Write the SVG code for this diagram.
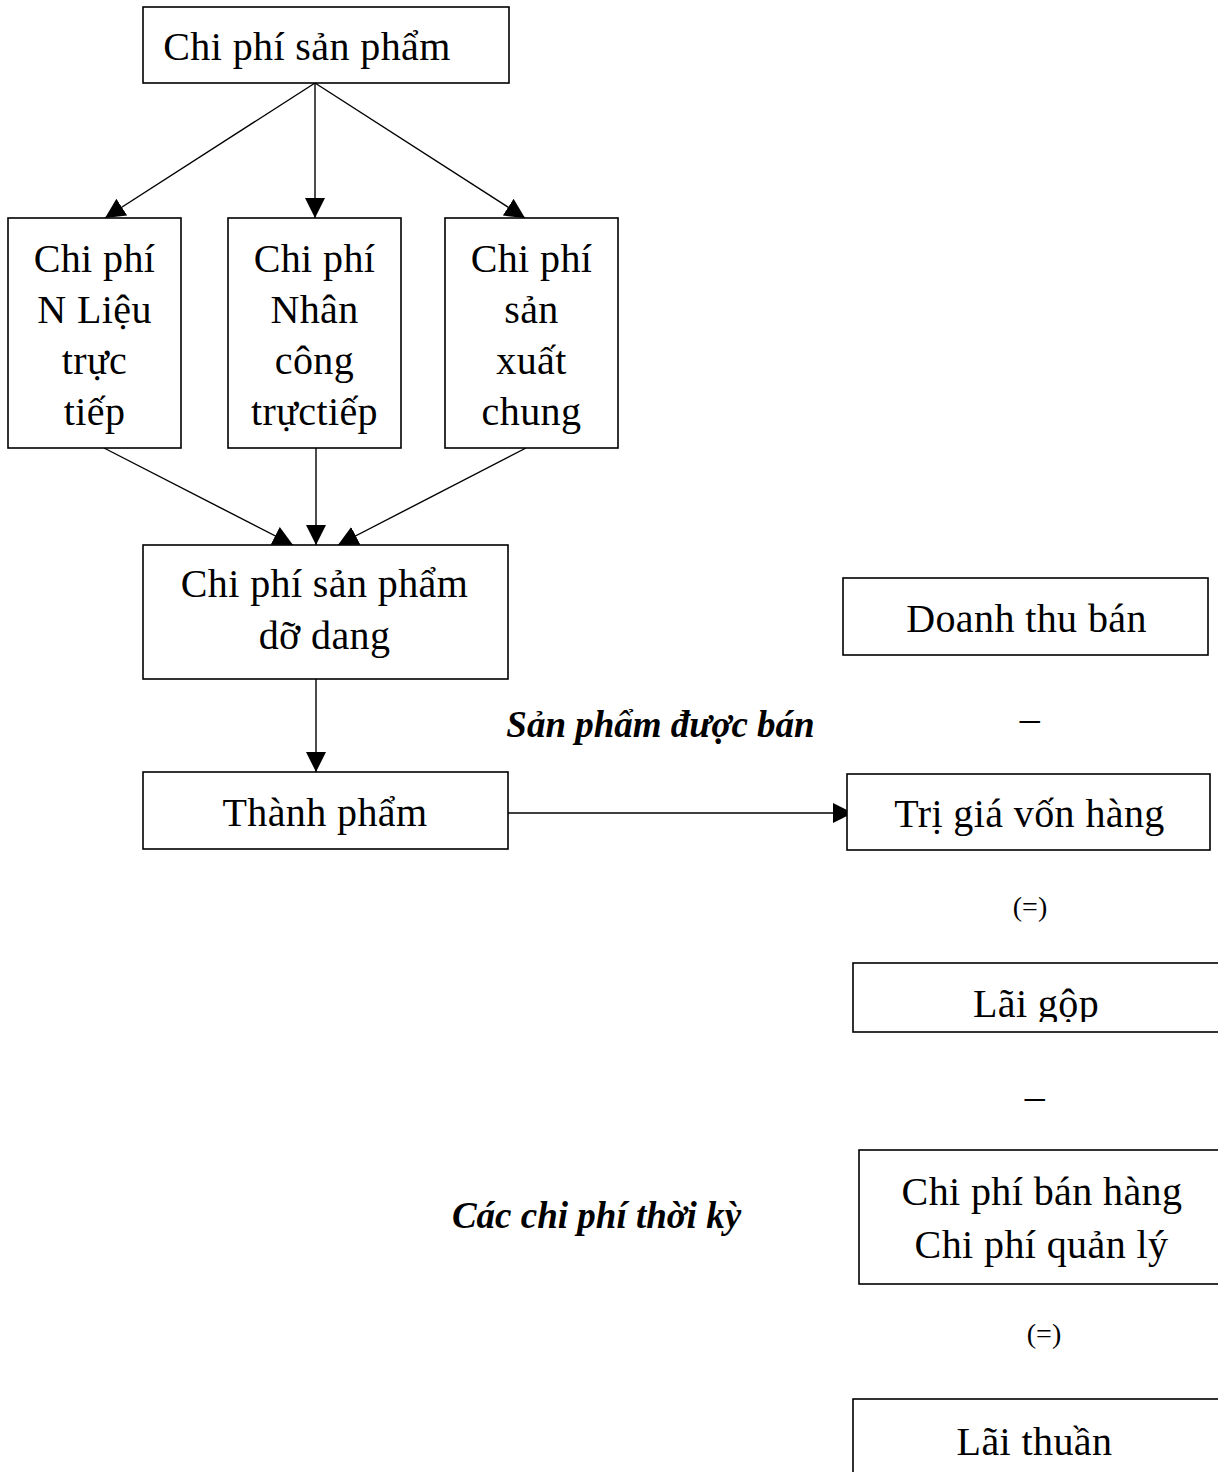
<svg xmlns="http://www.w3.org/2000/svg" width="1218" height="1472" viewBox="0 0 1218 1472">
<style>
.box{fill:#fff;stroke:#000;stroke-width:1.6}
.t{font-family:"Liberation Serif","Times New Roman",serif;font-size:40px;letter-spacing:0.4px;fill:#000;text-anchor:middle}
.s{font-family:"Liberation Serif","Times New Roman",serif;font-size:28px;fill:#000;text-anchor:middle}
.bi{font-family:"Liberation Serif","Times New Roman",serif;font-size:37px;font-weight:bold;font-style:italic;fill:#000;text-anchor:middle}
.c{fill:none;stroke:#000;stroke-width:1.4}
</style>
<defs>
<marker id="ah" markerUnits="userSpaceOnUse" markerWidth="20" markerHeight="20" refX="20" refY="10" orient="auto">
<path d="M0,0 L20,10 L0,20 z" fill="#000"/>
</marker>
<clipPath id="clipLG"><rect x="853" y="963" width="370" height="59"/></clipPath>
</defs>
<rect width="1218" height="1472" fill="#fff"/>
<g id="connectors">
<line class="c" x1="315" y1="83" x2="105" y2="218" marker-end="url(#ah)"/>
<line class="c" x1="315" y1="83" x2="315" y2="218" marker-end="url(#ah)"/>
<line class="c" x1="315" y1="83" x2="525" y2="218" marker-end="url(#ah)"/>
<line class="c" x1="104" y1="448" x2="293" y2="545" marker-end="url(#ah)"/>
<line class="c" x1="316" y1="448" x2="316" y2="545" marker-end="url(#ah)"/>
<line class="c" x1="526" y1="448" x2="338" y2="545" marker-end="url(#ah)"/>
<line class="c" x1="316" y1="679" x2="316" y2="772" marker-end="url(#ah)"/>
<line class="c" x1="508" y1="813" x2="853" y2="813" marker-end="url(#ah)"/>
</g>
<g id="n-top"><rect class="box" x="143" y="7" width="366" height="76"/><text class="t" x="307" y="60">Chi phí sản phẩm</text></g>
<g id="n-nl"><rect class="box" x="8" y="218" width="173" height="230"/>
<text class="t" x="94.5" y="272">Chi phí</text><text class="t" x="94.5" y="323">N Liệu</text><text class="t" x="94.5" y="374">trực</text><text class="t" x="94.5" y="425">tiếp</text></g>
<g id="n-nc"><rect class="box" x="228" y="218" width="173" height="230"/>
<text class="t" x="314.5" y="272">Chi phí</text><text class="t" x="314.5" y="323">Nhân</text><text class="t" x="314.5" y="374">công</text><text class="t" x="314.5" y="425">trựctiếp</text></g>
<g id="n-sx"><rect class="box" x="445" y="218" width="173" height="230"/>
<text class="t" x="531.5" y="272">Chi phí</text><text class="t" x="531.5" y="323">sản</text><text class="t" x="531.5" y="374">xuất</text><text class="t" x="531.5" y="425">chung</text></g>
<g id="n-dd"><rect class="box" x="143" y="545" width="365" height="134"/>
<text class="t" x="324.5" y="597">Chi phí sản phẩm</text><text class="t" x="324.5" y="649">dỡ dang</text></g>
<g id="n-tp"><rect class="box" x="143" y="772" width="365" height="77"/><text class="t" x="325" y="826">Thành phẩm</text></g>
<g id="n-dt"><rect class="box" x="843" y="578" width="365" height="77"/><text class="t" x="1026.5" y="632">Doanh thu bán</text></g>
<text class="t" x="1030" y="731">–</text>
<text class="bi" x="660.5" y="737">Sản phẩm được bán</text>
<g id="n-tg"><rect class="box" x="847" y="774" width="363" height="76"/><text class="t" x="1029.5" y="827">Trị giá vốn hàng</text></g>
<text class="s" x="1030" y="916">(=)</text>
<g id="n-lg"><rect class="box" x="853" y="963" width="375" height="69"/><text class="t" x="1036" y="1017" clip-path="url(#clipLG)">Lãi gộp</text></g>
<text class="t" x="1035" y="1109">–</text>
<g id="n-cp"><rect class="box" x="859" y="1150" width="370" height="134"/>
<text class="t" x="1042" y="1205">Chi phí bán hàng</text><text class="t" x="1041.5" y="1258">Chi phí quản lý</text></g>
<text class="bi" x="596.5" y="1228">Các chi phí thời kỳ</text>
<text class="s" x="1044" y="1343">(=)</text>
<g id="n-lt"><rect class="box" x="853" y="1399" width="375" height="90"/><text class="t" x="1034.5" y="1455">Lãi thuần</text></g>
</svg>
